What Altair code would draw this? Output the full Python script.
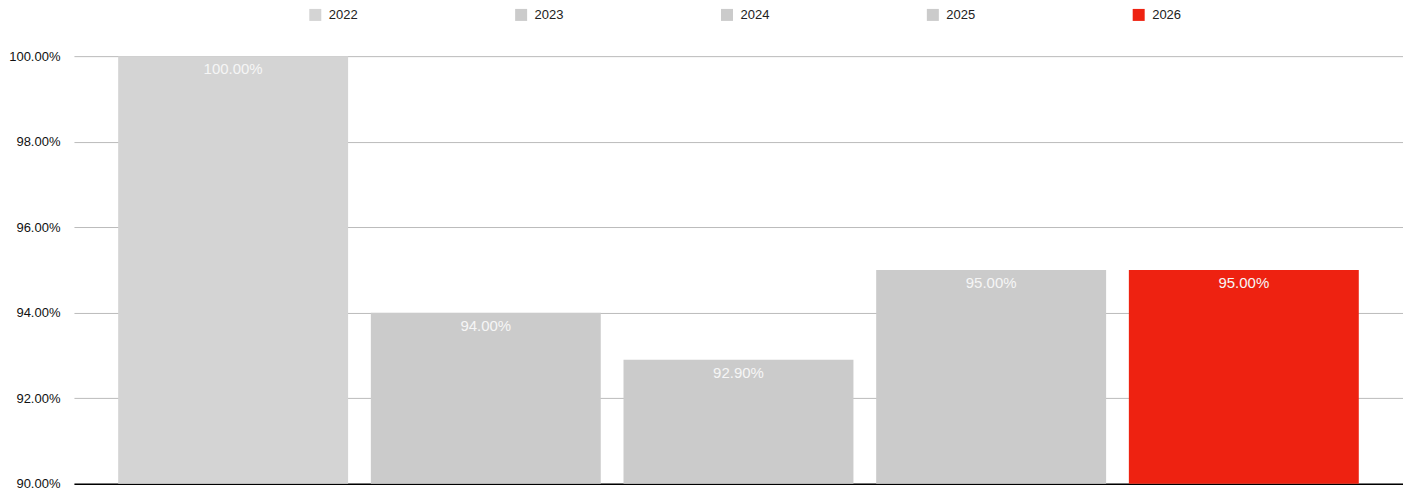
import altair as alt
import pandas as pd

years = ["2022", "2023", "2024", "2025", "2026"]
values = [1.00, 0.94, 0.929, 0.95, 0.95]
colors = ["#d4d4d4", "#cbcbcb", "#cbcbcb", "#cbcbcb", "#ee2211"]
y_ticks = [0.90, 0.92, 0.94, 0.96, 0.98, 1.00]
y_min = 0.90

df = pd.DataFrame({"year": years, "value": values, "base": [y_min] * len(years)})

FONT = "Liberation Sans"

x_enc = alt.X(
    "year:N",
    sort=years,
    scale=alt.Scale(paddingInner=0.09, paddingOuter=0.175),
    axis=alt.Axis(labels=False, ticks=False, title=None, domainColor="#000000",
                  domainWidth=1.5, grid=False),
)
y_scale = alt.Scale(domain=[y_min, 1.0], zero=False, nice=False)

bars = alt.Chart(df).mark_bar().encode(
    x=x_enc,
    y=alt.Y(
        "value:Q",
        scale=y_scale,
        axis=alt.Axis(values=y_ticks, format=".2%", title=None, domain=False,
                      ticks=False, labelPadding=14, labelFontSize=13,
                      labelColor="#111111", labelFont=FONT, gridColor="#bbbbbb",
                      gridWidth=1),
    ),
    y2="base:Q",
    color=alt.Color(
        "year:N",
        scale=alt.Scale(domain=years, range=colors),
        legend=alt.Legend(
            orient="none", legendX=235, legendY=-48, direction="horizontal",
            columns=5, title=None, symbolType="square", symbolSize=144,
            symbolStrokeWidth=0, labelOffset=7, columnPadding=157,
            labelFontSize=13, labelFont=FONT, labelColor="#222222",
        ),
    ),
)

labels = alt.Chart(df).mark_text(
    baseline="middle", dy=13, fontSize=15, font=FONT, color="#f6f6f6"
).encode(
    x=alt.X("year:N", sort=years),
    y=alt.Y("value:Q", scale=y_scale),
    text=alt.Text("value:Q", format=".2%"),
)

chart = (
    alt.layer(bars, labels)
    .properties(width=1330, height=428, padding=0)
    .configure_view(stroke=None)
)

chart.save("out.html", embed_options={"renderer": "svg", "actions": False})
